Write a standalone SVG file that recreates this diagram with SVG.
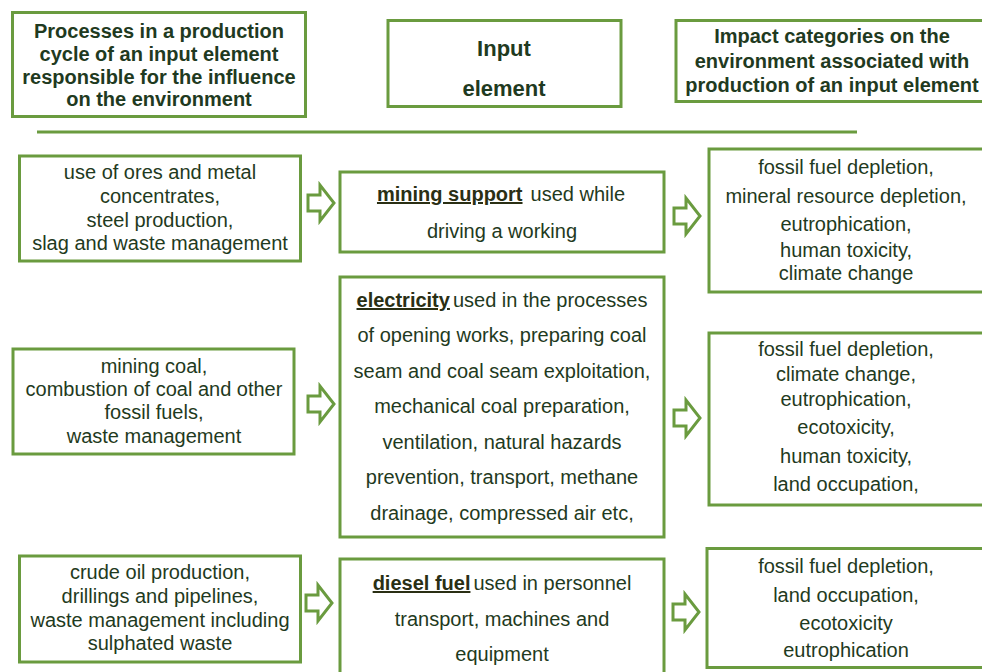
<svg xmlns="http://www.w3.org/2000/svg" xmlns:xlink="http://www.w3.org/1999/xlink" width="982" height="672" viewBox="0 0 982 672">
<style>
.box{fill:#ffffff;stroke:#6a9b3f;stroke-width:3}
.t{font-family:"Liberation Sans",Arial,sans-serif;font-size:20px;fill:#1f3a21;text-anchor:middle}
.h{font-weight:bold}
.big{font-size:22px}
.u{font-weight:bold;text-decoration:underline;fill:#2a2f14}
.arr{fill:#ffffff;stroke:#6a9b3f;stroke-width:3;stroke-linejoin:miter}
</style>
<defs>
<path id="arrow" class="arr" d="M0,-8 H12 V-18 L26,0 L12,18 V8 H0 Z"/>
</defs>
<rect width="982" height="672" fill="#ffffff"/>

<g id="header-processes">
<rect class="box" x="12.5" y="12.5" width="293" height="104"/>
<text class="t h" x="159" y="38">Processes in a production</text>
<text class="t h" x="159" y="61">cycle of an input element</text>
<text class="t h" x="159" y="84">responsible for the influence</text>
<text class="t h" x="159" y="106">on the environment</text>
</g>
<g id="header-input">
<rect class="box" x="388" y="20.5" width="233" height="86"/>
<text class="t h big" x="504" y="56">Input</text>
<text class="t h big" x="504" y="96">element</text>
</g>
<g id="header-impact">
<rect class="box" x="676" y="20.5" width="320" height="81"/>
<text class="t h" x="832" y="43">Impact categories on the</text>
<text class="t h" x="832" y="68">environment associated with</text>
<text class="t h" x="832" y="92">production of an input element</text>
</g>
<g id="separator">
<line x1="37" y1="132" x2="857" y2="132" stroke="#6a9b3f" stroke-width="3"/>
</g>

<g id="proc-mining">
<rect class="box" x="19.5" y="156" width="281" height="105"/>
<text class="t" x="160" y="179">use of ores and metal</text>
<text class="t" x="160" y="203">concentrates,</text>
<text class="t" x="160" y="227">steel production,</text>
<text class="t" x="160" y="250">slag and waste management</text>
</g>
<g id="input-mining-support">
<rect class="box" x="340" y="172" width="324" height="80"/>
<text class="t" x="501" y="201"><tspan class="u">mining support</tspan><tspan dx="8">used while</tspan></text>
<text class="t" x="502" y="238">driving a working</text>
</g>
<g id="impact-mining">
<rect class="box" x="709" y="149" width="290" height="143"/>
<text class="t" x="846" y="174">fossil fuel depletion,</text>
<text class="t" x="846" y="203">mineral resource depletion,</text>
<text class="t" x="846" y="231">eutrophication,</text>
<text class="t" x="846" y="257">human toxicity,</text>
<text class="t" x="846" y="280">climate change</text>
</g>

<g id="proc-electricity">
<rect class="box" x="13" y="349" width="281" height="105"/>
<text class="t" x="154" y="373">mining coal,</text>
<text class="t" x="154" y="396">combustion of coal and other</text>
<text class="t" x="154" y="419">fossil fuels,</text>
<text class="t" x="154" y="443">waste management</text>
</g>
<g id="input-electricity">
<rect class="box" x="340" y="277" width="324" height="260"/>
<text class="t" x="502" y="307"><tspan class="u">electricity</tspan><tspan dx="3">used in the processes</tspan></text>
<text class="t" x="502" y="342">of opening works, preparing  coal</text>
<text class="t" x="502" y="378">seam and  coal seam exploitation,</text>
<text class="t" x="502" y="413">mechanical coal preparation,</text>
<text class="t" x="502" y="449">ventilation,  natural hazards</text>
<text class="t" x="502" y="484">prevention, transport, methane</text>
<text class="t" x="502" y="520">drainage, compressed air etc,</text>
</g>
<g id="impact-electricity">
<rect class="box" x="709" y="333" width="290" height="172"/>
<text class="t" x="846" y="356">fossil  fuel depletion,</text>
<text class="t" x="846" y="381">climate change,</text>
<text class="t" x="846" y="406">eutrophication,</text>
<text class="t" x="846" y="434">ecotoxicity,</text>
<text class="t" x="846" y="463">human toxicity,</text>
<text class="t" x="846" y="491">land occupation,</text>
</g>

<g id="proc-diesel">
<rect class="box" x="19.5" y="556" width="281" height="106"/>
<text class="t" x="160" y="579">crude oil production,</text>
<text class="t" x="160" y="603">drillings and pipelines,</text>
<text class="t" x="160" y="627">waste management including</text>
<text class="t" x="160" y="650">sulphated waste</text>
</g>
<g id="input-diesel">
<rect class="box" x="340" y="559" width="324" height="130"/>
<text class="t" x="502" y="590"><tspan class="u">diesel fuel</tspan><tspan dx="3">used in personnel</tspan></text>
<text class="t" x="502" y="626">transport, machines and</text>
<text class="t" x="502" y="661">equipment</text>
</g>
<g id="impact-diesel">
<rect class="box" x="707" y="548.5" width="290" height="119"/>
<text class="t" x="846" y="573">fossil fuel depletion,</text>
<text class="t" x="846" y="602">land occupation,</text>
<text class="t" x="846" y="630">ecotoxicity</text>
<text class="t" x="846" y="657">eutrophication</text>
</g>

<g id="connectors">
<use xlink:href="#arrow" x="308" y="203"/>
<use xlink:href="#arrow" x="674" y="216"/>
<use xlink:href="#arrow" x="308" y="404"/>
<use xlink:href="#arrow" x="674" y="418"/>
<use xlink:href="#arrow" x="306" y="603"/>
<use xlink:href="#arrow" x="673" y="612"/>
</g>
</svg>
